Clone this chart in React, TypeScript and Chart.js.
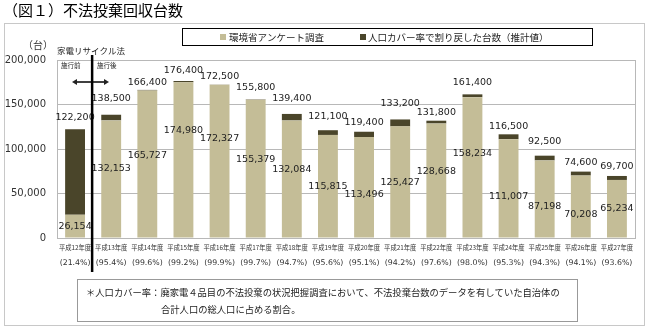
import React, { useEffect, useRef } from "react";
import { Chart, registerables } from "chart.js";

Chart.register(...registerables);

const categories = [
  "平成12年度", "平成13年度", "平成14年度", "平成15年度", "平成16年度", "平成17年度",
  "平成18年度", "平成19年度", "平成20年度", "平成21年度", "平成22年度", "平成23年度",
  "平成24年度", "平成25年度", "平成26年度", "平成27年度",
];
const coverageRates = [
  "(21.4%)", "(95.4%)", "(99.6%)", "(99.2%)", "(99.9%)", "(99.7%)", "(94.7%)", "(95.6%)",
  "(95.1%)", "(94.2%)", "(97.6%)", "(98.0%)", "(95.3%)", "(94.3%)", "(94.1%)", "(93.6%)",
];
const surveyValues = [
  26154, 132153, 165727, 174980, 172327, 155379, 132084, 115815,
  113496, 125427, 128668, 158234, 111007, 87198, 70208, 65234,
];
const totalValues = [
  122200, 138500, 166400, 176400, 172500, 155800, 139400, 121100,
  119400, 133200, 131800, 161400, 116500, 92500, 74600, 69700,
];
const yTicks = [0, 50000, 100000, 150000, 200000];

// label placement (pixels)
const totalLabelGap = [12, 16, 7, 10, 7.5, 12, 15, 14, 9, 15.5, 8, 12, 8, 14, 9, 9];
const surveyLabelDrop = [12, 48, 65, 48, 54, 60, 49, 52, 58, 56, 48.5, 56, 57, 46.5, 39.5, 29];

const TAN = "#c4bd97";
const DARK = "#4a452a";
const GRID = "#b8b8b8";
const JP = '"Noto Sans CJK JP", sans-serif';
const NUM = '"DejaVu Sans", sans-serif';

const fmt = (v: number) => v.toLocaleString("en-US");

const decorPlugin = {
  id: "decor",
  beforeDraw(chart: any) {
    const ctx = chart.ctx as CanvasRenderingContext2D;
    ctx.save();
    ctx.fillStyle = "#fff";
    ctx.fillRect(0, 0, chart.width, chart.height);
    // outer frame
    ctx.strokeStyle = "#c8c8c8";
    ctx.lineWidth = 1;
    ctx.strokeRect(4.5, 23.5, 640, 302);
    // title
    ctx.fillStyle = "#000";
    ctx.font = `15px ${JP}`;
    ctx.textBaseline = "middle";
    ctx.textAlign = "left";
    ctx.fillText("（図１）不法投棄回収台数", 3, 10);
    // unit
    ctx.font = `10px ${JP}`;
    ctx.fillStyle = "#333";
    ctx.fillText("（台）", 23, 45);
    // law label
    ctx.font = `8.5px ${JP}`;
    ctx.fillStyle = "#222";
    ctx.fillText("家電リサイクル法", 57, 51);
    // legend
    ctx.strokeStyle = "#000";
    ctx.strokeRect(182.5, 28.5, 410, 17);
    ctx.font = `9.5px ${JP}`;
    ctx.fillStyle = TAN;
    ctx.fillRect(220, 34, 6, 6);
    ctx.fillStyle = "#222";
    ctx.fillText("環境省アンケート調査", 229, 37.5);
    ctx.fillStyle = DARK;
    ctx.fillRect(360, 34, 6, 6);
    ctx.fillStyle = "#222";
    ctx.fillText("人口カバー率で割り戻した台数（推計値）", 368, 37.5);
    // footnote box
    ctx.strokeStyle = "#999";
    ctx.strokeRect(77.5, 279.5, 500, 42);
    ctx.font = `9.3px ${JP}`;
    ctx.fillStyle = "#222";
    ctx.fillText(
      "＊人口カバー率：廃家電４品目の不法投棄の状況把握調査において、不法投棄台数のデータを有していた自治体の",
      86, 292
    );
    ctx.fillText("合計人口の総人口に占める割合。", 161, 309);
    ctx.restore();
  },
  beforeDatasetsDraw(chart: any) {
    const ctx = chart.ctx as CanvasRenderingContext2D;
    const a = chart.chartArea;
    ctx.save();
    ctx.strokeStyle = GRID;
    ctx.lineWidth = 1;
    ctx.strokeRect(Math.round(a.left) + 0.5, Math.round(a.top) + 0.5, a.right - a.left, a.bottom - a.top);
    ctx.restore();
  },
  afterDraw(chart: any) {
    const ctx = chart.ctx as CanvasRenderingContext2D;
    const a = chart.chartArea;
    const x = chart.scales.x;
    const y = chart.scales.y;
    ctx.save();
    ctx.textAlign = "center";
    ctx.textBaseline = "middle";
    categories.forEach((c, i) => {
      const cx = x.getPixelForValue(i);
      ctx.fillStyle = "#333";
      ctx.font = `6.3px ${JP}`;
      ctx.fillText(c, cx, a.bottom + 10);
      ctx.font = `7.8px ${NUM}`;
      ctx.fillText(coverageRates[i], cx, a.bottom + 25);
      ctx.fillStyle = "#222";
      ctx.font = `9.5px ${NUM}`;
      const topT = y.getPixelForValue(totalValues[i]);
      ctx.fillText(fmt(totalValues[i]), cx, topT - totalLabelGap[i]);
      const topS = y.getPixelForValue(surveyValues[i]);
      ctx.fillText(fmt(surveyValues[i]), cx, topS + surveyLabelDrop[i]);
    });
    // law enforcement divider
    const divX = (x.getPixelForValue(0) + x.getPixelForValue(1)) / 2 - 1;
    ctx.strokeStyle = "#000";
    ctx.lineWidth = 2.5;
    ctx.beginPath();
    ctx.moveTo(divX, 55);
    ctx.lineTo(divX, 272);
    ctx.stroke();
    ctx.font = `6.5px ${JP}`;
    ctx.fillStyle = "#222";
    ctx.textAlign = "left";
    ctx.fillText("施行前", 61, 66);
    ctx.fillText("施行後", 97, 66);
    // arrow
    ctx.lineWidth = 1.5;
    ctx.beginPath();
    ctx.moveTo(74, 82);
    ctx.lineTo(107, 82);
    ctx.stroke();
    ctx.beginPath();
    ctx.moveTo(72, 82);
    ctx.lineTo(77, 79);
    ctx.lineTo(77, 85);
    ctx.closePath();
    ctx.fill();
    ctx.beginPath();
    ctx.moveTo(109, 82);
    ctx.lineTo(104, 79);
    ctx.lineTo(104, 85);
    ctx.closePath();
    ctx.fill();
    ctx.restore();
  },
};

export default function App() {
  const ref = useRef<HTMLCanvasElement | null>(null);
  useEffect(() => {
    if (!ref.current) return;
    const chart = new Chart(ref.current, {
      type: "bar",
      data: {
        labels: categories,
        datasets: [
          {
            label: "環境省アンケート調査",
            data: surveyValues,
            backgroundColor: TAN,
            barPercentage: 0.55,
            categoryPercentage: 1,
          },
          {
            label: "人口カバー率で割り戻した台数（推計値）",
            data: totalValues.map((t, i) => t - surveyValues[i]),
            backgroundColor: DARK,
            barPercentage: 0.55,
            categoryPercentage: 1,
          },
        ],
      },
      options: {
        responsive: false,
        animation: false,
        devicePixelRatio: 1,
        layout: { padding: { top: 60, right: 15, bottom: 92, left: 0 } },
        plugins: { legend: { display: false }, tooltip: { enabled: false } },
        scales: {
          x: {
            stacked: true,
            grid: { display: false },
            ticks: { display: false },
            border: { display: false },
            afterFit: (s: any) => { s.height = 0; },
          },
          y: {
            stacked: true,
            min: 0,
            max: 200000,
            afterBuildTicks: (s: any) => { s.ticks = yTicks.map((v) => ({ value: v })); },
            ticks: {
              callback: (v: any) => fmt(Number(v)),
              font: { family: "DejaVu Sans", size: 10 },
              color: "#333",
              padding: 11,
            },
            grid: { color: GRID, drawTicks: false },
            border: { display: false },
            afterFit: (s: any) => { s.width = 57; },
          },
        },
      },
      plugins: [decorPlugin],
    });
    return () => chart.destroy();
  }, []);
  return (
    <div style={{ position: "absolute", left: 0, top: 0, width: 650, height: 330 }}>
      <canvas ref={ref} width={650} height={330} />
    </div>
  );
}
